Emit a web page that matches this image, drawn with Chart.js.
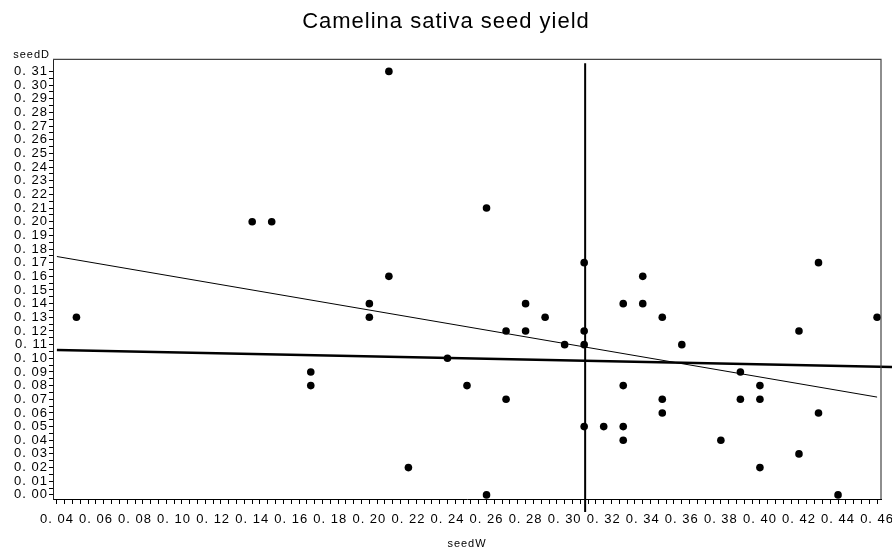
<!DOCTYPE html>
<html>
<head>
<meta charset="utf-8">
<script src="https://cdn.jsdelivr.net/npm/chart.js@4.4.1/dist/chart.umd.min.js"></script>
<style>
  body { margin: 0; background: #fff; }
</style>
</head>
<body>
<canvas id="seedChart" width="892" height="552"></canvas>
<script>
const seedW = [0.05, 0.14, 0.15, 0.17, 0.17, 0.20, 0.20, 0.21, 0.21, 0.22, 0.24, 0.25, 0.26, 0.26,
  0.27, 0.27, 0.28, 0.28, 0.29, 0.30, 0.31, 0.31, 0.31, 0.31, 0.32, 0.33, 0.33, 0.33, 0.33,
  0.34, 0.34, 0.35, 0.35, 0.35, 0.36, 0.38, 0.39, 0.39, 0.40, 0.40, 0.40, 0.42, 0.42, 0.43,
  0.43, 0.44, 0.46];
const seedD = [0.13, 0.20, 0.20, 0.09, 0.08, 0.14, 0.13, 0.31, 0.16, 0.02, 0.10, 0.08, 0.21, 0.00,
  0.12, 0.07, 0.14, 0.12, 0.13, 0.11, 0.17, 0.12, 0.11, 0.05, 0.05, 0.14, 0.08, 0.05, 0.04,
  0.16, 0.14, 0.13, 0.07, 0.06, 0.11, 0.04, 0.09, 0.07, 0.08, 0.07, 0.02, 0.12, 0.03, 0.17,
  0.06, 0.00, 0.13];

// fitted line (thin), the bold near-flat line, and the vertical reference line
const fitX = [0.04, 0.46];
const fitY = [0.1745, 0.0716];
const boldX = [0.04, 0.468];
const boldY = [0.106, 0.0936];
const refX = [0.3105, 0.3105];
const refY = [0.316, -0.0125];

// tick positions (hundredths)
const xMajor = [4, 6, 8, 10, 12, 14, 16, 18, 20, 22, 24, 26, 28, 30, 32, 34, 36, 38, 40, 42, 44, 46];
const yMajor = [0, 1, 2, 3, 4, 5, 6, 7, 8, 9, 10, 11, 12, 13, 14, 15, 16, 17, 18, 19, 20,
  21, 22, 23, 24, 25, 26, 27, 28, 29, 30, 31];

const toPts = (xs, ys) => xs.map((x, i) => ({ x, y: ys[i] }));
const lbl = h => '0. ' + String(h).padStart(2, '0');

const xTicks = [];
for (let i = 0; i <= (xMajor[xMajor.length - 1] - xMajor[0]) * 2.5; i++) {
  xTicks.push({ value: (xMajor[0] * 5 + i * 2) / 500, major: i % 5 === 0, h: xMajor[0] + i * 0.4 });
}
const yTicks = [];
for (let i = 0; i <= yMajor[yMajor.length - 1] * 2; i++) {
  yTicks.push({ value: i / 200, major: i % 2 === 0, h: i / 2 });
}

const spacing = {
  id: 'spacing',
  beforeUpdate(chart) { chart.ctx.letterSpacing = '1px'; },
  beforeDraw(chart) { chart.ctx.letterSpacing = '1px'; }
};

const frame = {
  id: 'frame',
  afterDatasetsDraw(chart) {
    const { ctx, chartArea: a } = chart;
    ctx.save();
    ctx.strokeStyle = '#444';
    ctx.lineWidth = 1.2;
    ctx.beginPath();
    ctx.moveTo(a.left, a.top);
    ctx.lineTo(a.right, a.top);
    ctx.lineTo(a.right, a.bottom);
    ctx.stroke();
    ctx.font = '11px "Liberation Sans", Arial, sans-serif';
    ctx.fillStyle = '#000';
    ctx.textAlign = 'right';
    ctx.textBaseline = 'middle';
    ctx.fillText('seedD', a.left - 3, a.top - 4);
    ctx.restore();
  }
};

const font = size => ({ family: '"Liberation Sans", Arial, sans-serif', size, weight: 'normal' });

new Chart(document.getElementById('seedChart'), {
  type: 'scatter',
  data: {
    datasets: [
      {
        data: toPts(seedW, seedD),
        pointRadius: 3.8,
        pointBackgroundColor: '#000',
        pointBorderWidth: 0,
        showLine: false
      },
      {
        data: toPts(fitX, fitY),
        showLine: true,
        borderColor: '#000',
        borderWidth: 1,
        pointRadius: 0
      },
      {
        data: toPts(boldX, boldY),
        showLine: true,
        borderColor: '#000',
        borderWidth: 2.5,
        pointRadius: 0,
        clip: false
      },
      {
        data: toPts(refX, refY),
        showLine: true,
        borderColor: '#000',
        borderWidth: 2,
        pointRadius: 0,
        clip: false
      }
    ]
  },
  options: {
    responsive: false,
    animation: false,
    devicePixelRatio: 1,
    layout: { padding: 0 },
    plugins: {
      legend: { display: false },
      tooltip: { enabled: false },
      title: {
        display: true,
        text: 'Camelina sativa seed yield',
        color: '#000',
        font: font(22),
        padding: { top: 9, bottom: 24 }
      }
    },
    scales: {
      x: {
        type: 'linear',
        min: 0.038,
        max: 0.462,
        afterBuildTicks: s => { s.ticks = xTicks.map(t => ({ value: t.value, major: t.major, h: t.h })); },
        afterFit: s => { s.height = 53; s.paddingLeft = 0; s.paddingRight = 0; },
        border: { display: true, color: '#000', width: 1 },
        grid: {
          drawOnChartArea: false,
          drawTicks: true,
          tickLength: 5,
          tickColor: '#000',
          tickWidth: 1
        },
        ticks: {
          autoSkip: false,
          maxRotation: 0,
          padding: 8,
          color: '#000',
          font: font(13),
          callback: (v, i) => xTicks[i] && xTicks[i].major ? lbl(Math.round(xTicks[i].h)) : ''
        },
        title: {
          display: true,
          text: 'seedW',
          color: '#000',
          font: font(11),
          padding: { top: 0, bottom: 1 }
        }
      },
      y: {
        type: 'linear',
        min: -0.003,
        max: 0.3188,
        afterBuildTicks: s => { s.ticks = yTicks.map(t => ({ value: t.value, major: t.major, h: t.h })); },
        afterFit: s => { s.width = 53; s.paddingTop = 0; s.paddingBottom = 0; },
        border: { display: true, color: '#222', width: 1 },
        grid: {
          drawOnChartArea: false,
          drawTicks: true,
          tickLength: 4,
          tickColor: '#000',
          tickWidth: 1
        },
        ticks: {
          autoSkip: false,
          padding: 1,
          color: '#000',
          font: font(13),
          callback: (v, i) => yTicks[i] && yTicks[i].major ? lbl(Math.round(yTicks[i].h)) : ''
        }
      },
      yRight: {
        type: 'linear',
        position: 'right',
        min: -0.003,
        max: 0.3188,
        afterFit: s => { s.width = 11; s.paddingTop = 0; s.paddingBottom = 0; },
        border: { display: false },
        grid: { display: false, drawTicks: false },
        ticks: { display: false }
      }
    }
  },
  plugins: [spacing, frame]
});
</script>
</body>
</html>
